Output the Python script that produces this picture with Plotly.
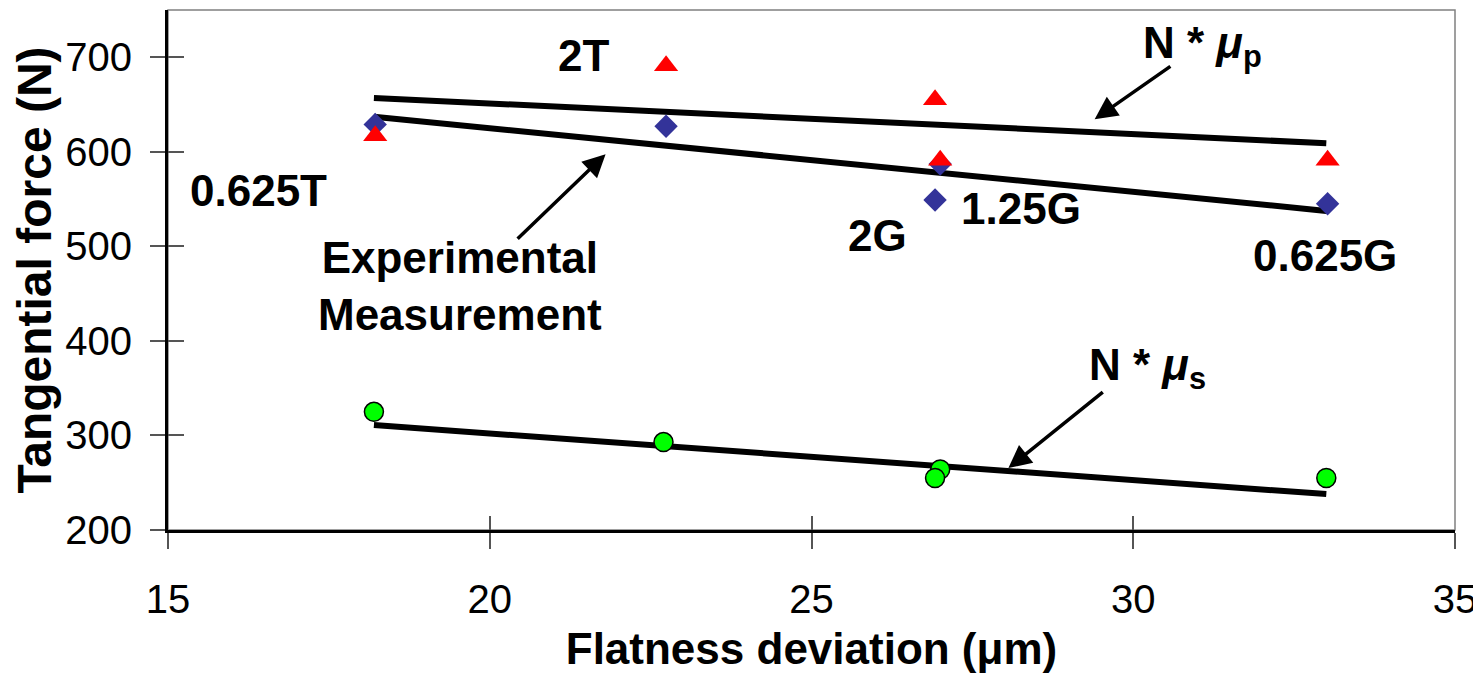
import plotly.graph_objects as go

# ---- data ----
x_pts = [18.22, 22.74, 27.0, 26.92, 33.02]
exp_diamond = [629, 627, 587, 549, 545]          # experimental measurement (blue diamonds)
np_triangle = [617, 691, 591, 655, 591]          # N * mu_p (red triangles)
x_tri = [18.22, 22.74, 27.0, 26.92, 33.02]
ns_circle = [325, 293, 264, 255, 255]            # N * mu_s (green circles)
x_circ = [18.2, 22.7, 27.0, 26.92, 33.0]

trend_x = [18.2, 33.0]
trend_np = [657, 609]
trend_exp = [637, 537.5]
trend_ns = [311, 238]

x_ticks = [15, 20, 25, 30, 35]
y_ticks = [200, 300, 400, 500, 600, 700]

# label text and anchor positions (data coords)
labels = ["2T", "0.625T", "2G", "1.25G", "0.625G"]
label_x = [21.45, 16.40, 26.02, 28.26, 32.98]
label_y = [702, 559, 512, 540, 490]

FONT = "Arial, Liberation Sans, sans-serif"

fig = go.Figure()

# trend lines
for ty in (trend_np, trend_exp, trend_ns):
    fig.add_trace(go.Scatter(x=trend_x, y=ty, mode="lines",
                             line=dict(color="black", width=6),
                             showlegend=False, hoverinfo="skip"))

fig.add_trace(go.Scatter(x=x_pts, y=exp_diamond, mode="markers",
                         marker=dict(symbol="diamond", size=18, color="#333399"),
                         showlegend=False))
fig.add_trace(go.Scatter(x=x_tri, y=np_triangle, mode="markers",
                         marker=dict(symbol="triangle-up", size=21, color="#FF0000"),
                         showlegend=False))
fig.add_trace(go.Scatter(x=x_circ, y=ns_circle, mode="markers",
                         marker=dict(symbol="circle", size=19, color="#00FF00",
                                     line=dict(color="black", width=1.5)),
                         showlegend=False))

# dummy trace for overlay axes (inside ticks)
fig.add_trace(go.Scatter(x=[], y=[], xaxis="x2", yaxis="y2",
                         showlegend=False, hoverinfo="skip"))

annotations = []
for t, lx, ly in zip(labels, label_x, label_y):
    annotations.append(dict(x=lx, y=ly, xref="x", yref="y", text="<b>%s</b>" % t,
                            showarrow=False, font=dict(family=FONT, size=44, color="black")))

annotations.append(dict(x=19.53, y=458, xref="x", yref="y",
                        text="<b>Experimental<br>Measurement</b>", showarrow=False,
                        font=dict(family=FONT, size=44, color="black")))
annotations.append(dict(x=31.08, y=712, xref="x", yref="y",
                        text="<b>N * <i>μ</i><sub>p</sub></b>", showarrow=False,
                        font=dict(family=FONT, size=44, color="black")))
annotations.append(dict(x=30.22, y=371, xref="x", yref="y",
                        text="<b>N * <i>μ</i><sub>s</sub></b>", showarrow=False,
                        font=dict(family=FONT, size=44, color="black")))

# arrows
arrows = [((20.41, 506.6), (21.80, 597.5)),
          ((30.60, 691.5), (29.40, 634.5)),
          ((29.55, 347.0), (28.06, 265.5))]
for (tx, ty), (hx, hy) in arrows:
    annotations.append(dict(x=hx, y=hy, ax=tx, ay=ty, xref="x", yref="y",
                            axref="x", ayref="y", text="", showarrow=True,
                            arrowhead=2, arrowsize=1.3, arrowwidth=3.5, arrowcolor="black"))

fig.update_layout(
    width=1471, height=665,
    margin=dict(l=160, r=24, t=2, b=143, pad=0),
    paper_bgcolor="white", plot_bgcolor="white",
    font=dict(family=FONT, color="black"),
    annotations=annotations,
    shapes=[dict(type="rect", xref="x domain", yref="y domain", x0=0, x1=1, y0=0, y1=1,
                 line=dict(color="#808080", width=1.5), layer="below")],
    xaxis=dict(range=[15, 35], tickvals=x_ticks, ticks="outside", ticklen=16,
               tickwidth=1.5, tickcolor="#555555", showline=True, linecolor="black",
               linewidth=3, showgrid=False, zeroline=False, automargin=False,
               ticklabeloverflow="allow",
               tickfont=dict(size=40, family=FONT, color="black"),
               ticklabelstandoff=16,
               title=dict(text="<b>Flatness deviation (μm)</b>", standoff=18,
                          font=dict(size=44, family=FONT, color="black"))),
    yaxis=dict(range=[200, 750], tickvals=y_ticks, ticks="outside", ticklen=15,
               tickwidth=1.5, tickcolor="#555555", showline=True, linecolor="black",
               linewidth=3, showgrid=False, zeroline=False, automargin=False,
               ticklabeloverflow="allow",
               tickfont=dict(size=40, family=FONT, color="black"),
               ticklabelstandoff=10,
               title=dict(text="<b>Tangential force (N)</b>", standoff=16,
                          font=dict(size=48, family=FONT, color="black"))),
    xaxis2=dict(overlaying="x", matches="x", anchor="y", side="bottom",
                tickvals=x_ticks, ticks="inside", ticklen=14, tickwidth=1.5,
                tickcolor="#555555", showticklabels=False, showline=False,
                showgrid=False, zeroline=False, automargin=False),
    yaxis2=dict(overlaying="y", matches="y", anchor="x", side="left",
                tickvals=y_ticks, ticks="inside", ticklen=16, tickwidth=1.5,
                tickcolor="#555555", showticklabels=False, showline=False,
                showgrid=False, zeroline=False, automargin=False),
)

fig.write_html("out.html")
